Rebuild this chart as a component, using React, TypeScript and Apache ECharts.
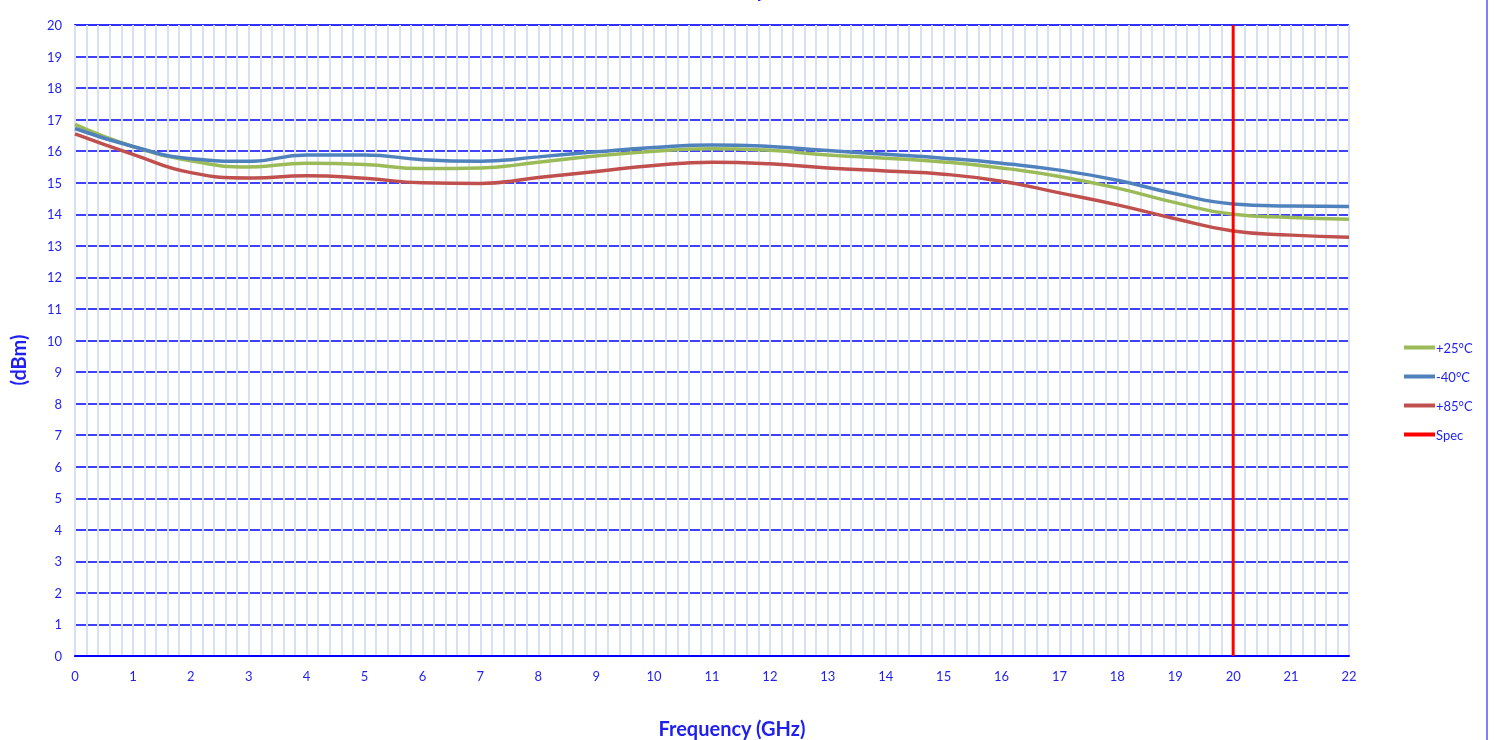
import React, { useEffect, useRef } from "react";
import * as echarts from "echarts";

const freqGHz = [0, 1, 2, 3, 4, 5, 6, 7, 8, 9, 10, 11, 12, 13, 14, 15, 16, 17, 18, 19, 20, 21, 22];
const t25 = [16.85, 16.15, 15.7, 15.5, 15.62, 15.58, 15.45, 15.47, 15.65, 15.85, 16.0, 16.08, 16.03, 15.88, 15.78, 15.66, 15.47, 15.2, 14.83, 14.37, 14.0, 13.9, 13.84];
const tm40 = [16.72, 16.15, 15.76, 15.68, 15.88, 15.88, 15.73, 15.68, 15.82, 15.98, 16.12, 16.2, 16.15, 16.02, 15.9, 15.78, 15.62, 15.4, 15.08, 14.65, 14.33, 14.26, 14.25];
const t85 = [16.55, 15.9, 15.32, 15.15, 15.22, 15.14, 15.0, 14.98, 15.17, 15.36, 15.55, 15.65, 15.6, 15.47, 15.37, 15.27, 15.05, 14.68, 14.3, 13.86, 13.47, 13.34, 13.27];
const specX = 20;
const specY = [0, 20];
const seriesNames = ["+25°C", "-40°C", "+85°C", "Spec"];
const seriesColors = ["#9BBB59", "#4F81BD", "#C0504D", "#FF0000"];

const BLUE = "#1f1fef";
const FONT = "Lato, 'Open Sans', sans-serif";

export default function App() {
  const ref = useRef<HTMLDivElement>(null);
  useEffect(() => {
    if (!ref.current) return;
    const chart = echarts.init(ref.current, undefined, { renderer: "svg" });
    const mk = (vals: number[]) => freqGHz.map((f, i) => [f, vals[i]]);
    chart.setOption({
      animation: false,
      textStyle: { fontFamily: FONT },
      grid: { left: 75, right: 145, top: 25, bottom: 84, show: true, borderColor: "#7a7aff", borderWidth: 1 },
      legend: {
        orient: "vertical",
        left: 1399,
        top: 336,
        itemWidth: 31,
        itemHeight: 4,
        itemGap: 16,
        icon: "rect",
        textStyle: { color: BLUE, fontSize: 13, fontFamily: FONT, padding: [0, 0, 0, -4] },
        data: seriesNames,
      },
      xAxis: {
        type: "value",
        min: 0,
        max: 22,
        interval: 1,
        z: 2,
        axisLine: { show: true, onZero: false, lineStyle: { color: "#0000ff", width: 2 } },
        axisTick: { show: false },
        axisLabel: { color: BLUE, fontSize: 13, margin: 13 },
        splitLine: { show: true, lineStyle: { color: "#d6e1f1", width: 2 } },
        minorTick: { show: false, splitNumber: 5 },
        minorSplitLine: { show: true, lineStyle: { color: "#d6e1f1", width: 2 } },
      },
      yAxis: {
        type: "value",
        min: 0,
        max: 20,
        interval: 1,
        z: 1,
        axisLine: { show: true, lineStyle: { color: "#0000ff", width: 2 } },
        axisTick: { show: false },
        axisLabel: { color: BLUE, fontSize: 13, margin: 13 },
        splitLine: { show: true, lineStyle: { color: "#0000ff", width: 1.5 } },
      },
      graphic: [
        {
          type: "text",
          left: 722,
          top: -21,
          style: { text: "Output Power", fill: BLUE, font: `bold 20px ${FONT}` },
        },
        {
          type: "text",
          x: 732,
          y: 728,
          style: { text: "Frequency (GHz)", fill: BLUE, font: `bold 20px ${FONT}`, align: "center", verticalAlign: "middle" },
        },
        {
          type: "text",
          x: 18,
          y: 360,
          rotation: Math.PI / 2,
          style: { text: "(dBm)", fill: BLUE, font: `bold 20px ${FONT}`, align: "center", verticalAlign: "middle" },
        },
        {
          type: "line",
          shape: { x1: 1487, y1: 0, x2: 1487, y2: 740 },
          style: { stroke: "#5555ff", lineWidth: 1.5 },
        },
      ],
      series: [
        { name: seriesNames[0], type: "line", data: mk(t25), smooth: 0.5, symbol: "none", z: 3, lineStyle: { color: seriesColors[0], width: 3.5 }, itemStyle: { color: seriesColors[0] } },
        { name: seriesNames[1], type: "line", data: mk(tm40), smooth: 0.5, symbol: "none", z: 3, lineStyle: { color: seriesColors[1], width: 3.5 }, itemStyle: { color: seriesColors[1] } },
        { name: seriesNames[2], type: "line", data: mk(t85), smooth: 0.5, symbol: "none", z: 3, lineStyle: { color: seriesColors[2], width: 3.5 }, itemStyle: { color: seriesColors[2] } },
        { name: seriesNames[3], type: "line", data: specY.map((y) => [specX, y]), symbol: "none", z: 4, lineStyle: { color: seriesColors[3], width: 3 }, itemStyle: { color: seriesColors[3] } },
      ],
    });
    return () => chart.dispose();
  }, []);
  return <div ref={ref} style={{ position: "fixed", left: 0, top: 0, width: 1494, height: 740 }} />;
}
